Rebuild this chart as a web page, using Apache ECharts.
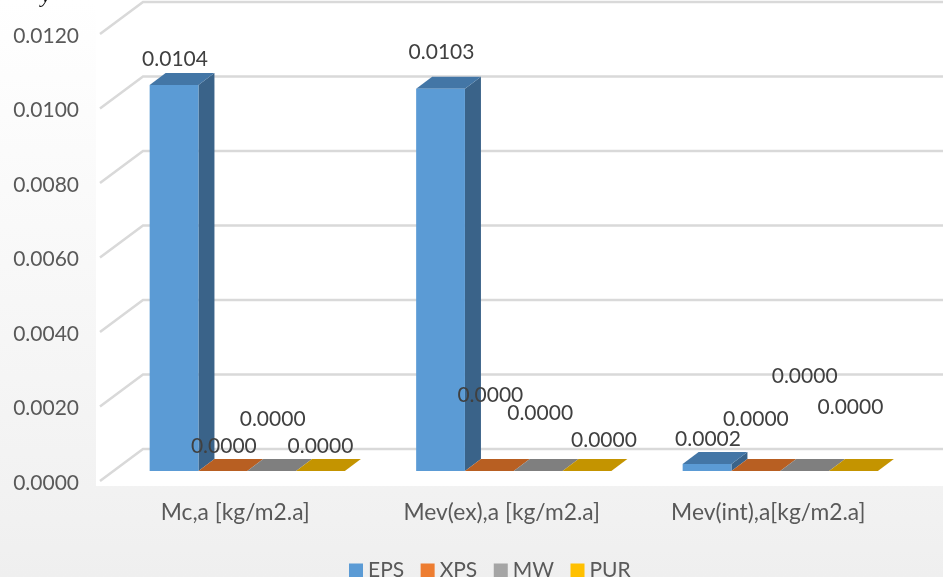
<!DOCTYPE html>
<html>
<head>
<meta charset="utf-8">
<style>html,body{margin:0;padding:0;background:#fff;overflow:hidden}#c{width:943px;height:577px}</style>
<script src="https://cdn.jsdelivr.net/npm/echarts@6/dist/echarts.min.js"></script>
</head>
<body>
<div id="c"></div>
<script>
const categories = ['Mc,a [kg/m2.a]', 'Mev(ex),a [kg/m2.a]', 'Mev(int),a[kg/m2.a]'];
const seriesNames = ['EPS', 'XPS', 'MW', 'PUR'];
const eps = [0.01036, 0.01026, 0.00019];
const xps = [0, 0, 0];
const mw = [0, 0, 0];
const pur = [0, 0, 0];
const yTicks = [0, 0.002, 0.004, 0.006, 0.008, 0.01, 0.012];

const seriesValues = [eps, xps, mw, pur];
const FONT = 'Lato, "Open Sans", sans-serif';
const front = ['#5B9BD5', '#ED7D31', '#A5A5A5', '#FFC000'];
const side = ['#3A6389', '#9E5420', '#6E6E6E', '#A88000'];
const topFace = ['#4376A6', '#B85F22', '#7F7F7F', '#C49400'];
// label displacement per series per category
const labelShift = [
  [[1, -26], [1, -37], [1, -25]],
  [[1, -25], [1, -76], [0, -52]],
  [[1, -52], [2, -58], [0, -95]],
  [[0, -25], [17, -31], [-3, -64]]
];
const BAR_W = 48.8, DX = 16, DY = -12, LIFT = 10, GROUP_SHIFT = 12;
const WALL_DX = 43, WALL_DY = -32;

function renderBar(si) {
  return function (params, api) {
    const c = api.value(0), v = api.value(1);
    const base = api.coord([c, 0]);
    const topP = api.coord([c, v]);
    const x0 = base[0] + GROUP_SHIFT - 2 * BAR_W + si * BAR_W;
    const x1 = x0 + BAR_W;
    const yb = base[1] - LIFT;
    const yt = topP[1] - LIFT;
    const kids = [];
    if (yb - yt > 0.5) {
      kids.push({ type: 'polygon', shape: { points: [[x1, yb], [x1 + DX, yb + DY], [x1 + DX, yt + DY], [x1, yt]] }, style: { fill: side[si] }, z2: 10 + si });
      kids.push({ type: 'rect', shape: { x: x0, y: yt, width: BAR_W, height: yb - yt }, style: { fill: front[si] }, z2: 11 + si });
    }
    kids.push({ type: 'polygon', shape: { points: [[x0, yt], [x0 + DX, yt + DY], [x1 + DX, yt + DY], [x1, yt]] }, style: { fill: topFace[si] }, z2: 10 + si });
    const sh = labelShift[si][c];
    kids.push({
      type: 'text', z2: 100,
      style: { text: v.toFixed(4), x: x0 + BAR_W / 2 + sh[0], y: yt + sh[1], fill: '#404040', font: '21px ' + FONT, textAlign: 'center', textVerticalAlign: 'middle' }
    });
    return { type: 'group', children: kids };
  };
}

function renderWall(params, api) {
  const v = api.value(0);
  const p = api.coord([0, v]);
  const cs = params.coordSys;
  const lineStyle = { stroke: '#D9D9D9', lineWidth: 2.5, fill: 'none' };
  return {
    type: 'polyline',
    shape: { points: [[cs.x - 2, p[1]], [cs.x - 2 + WALL_DX, p[1] + WALL_DY], [943, p[1] + WALL_DY]] },
    style: lineStyle, silent: true
  };
}

const chart = echarts.init(document.getElementById('c'), null, { renderer: 'canvas' });
chart.setOption({
  animation: false,
  backgroundColor: { type: 'linear', x: 0, y: 0, x2: 0, y2: 1, colorStops: [{ offset: 0, color: '#FFFFFF' }, { offset: 0.85, color: '#F2F2F2' }, { offset: 1, color: '#EFEFEF' }] },
  textStyle: { fontFamily: FONT },
  graphic: [
    { type: 'rect', z: 0, silent: true, shape: { x: 96, y: 0, width: 847, height: 486 }, style: { fill: '#FFFFFF' } },
    { type: 'text', z: 1, silent: true, x: 41, y: -15, style: { text: 'y', font: 'italic 22px "Liberation Serif", serif', fill: '#111' } }
  ],
  grid: { left: 102, width: 799.5, top: 34, height: 447 },
  legend: {
    data: seriesNames, left: 344, top: 555, itemWidth: 14, itemHeight: 14, itemGap: 16.5, icon: 'rect',
    textStyle: { fontFamily: FONT, fontSize: 21, color: '#595959' }
  },
  xAxis: {
    type: 'category', data: categories,
    axisLine: { show: false }, axisTick: { show: false }, splitLine: { show: false },
    axisLabel: { fontFamily: FONT, fontSize: 22.8, color: '#595959', margin: 20, interval: 0 }
  },
  yAxis: {
    type: 'value', min: 0, max: 0.012, interval: 0.002,
    axisLine: { show: false }, axisTick: { show: false }, splitLine: { show: false },
    axisLabel: { fontFamily: FONT, fontSize: 21, color: '#595959', margin: 23, verticalAlign: 'top', lineHeight: 4, formatter: v => v.toFixed(4) }
  },
  series: [
    { type: 'custom', name: 'walls', coordinateSystem: 'cartesian2d', silent: true, clip: false, data: yTicks.map(v => [v]), encode: { y: 0 }, renderItem: renderWall, z: 1 }
  ].concat(seriesNames.map((n, si) => ({
    type: 'custom', name: n, coordinateSystem: 'cartesian2d', clip: false,
    itemStyle: { color: front[si] },
    encode: { x: 0, y: 1 },
    data: seriesValues[si].map((v, i) => [i, v]),
    renderItem: renderBar(si), z: 3
  })))
});
</script>
</body>
</html>
